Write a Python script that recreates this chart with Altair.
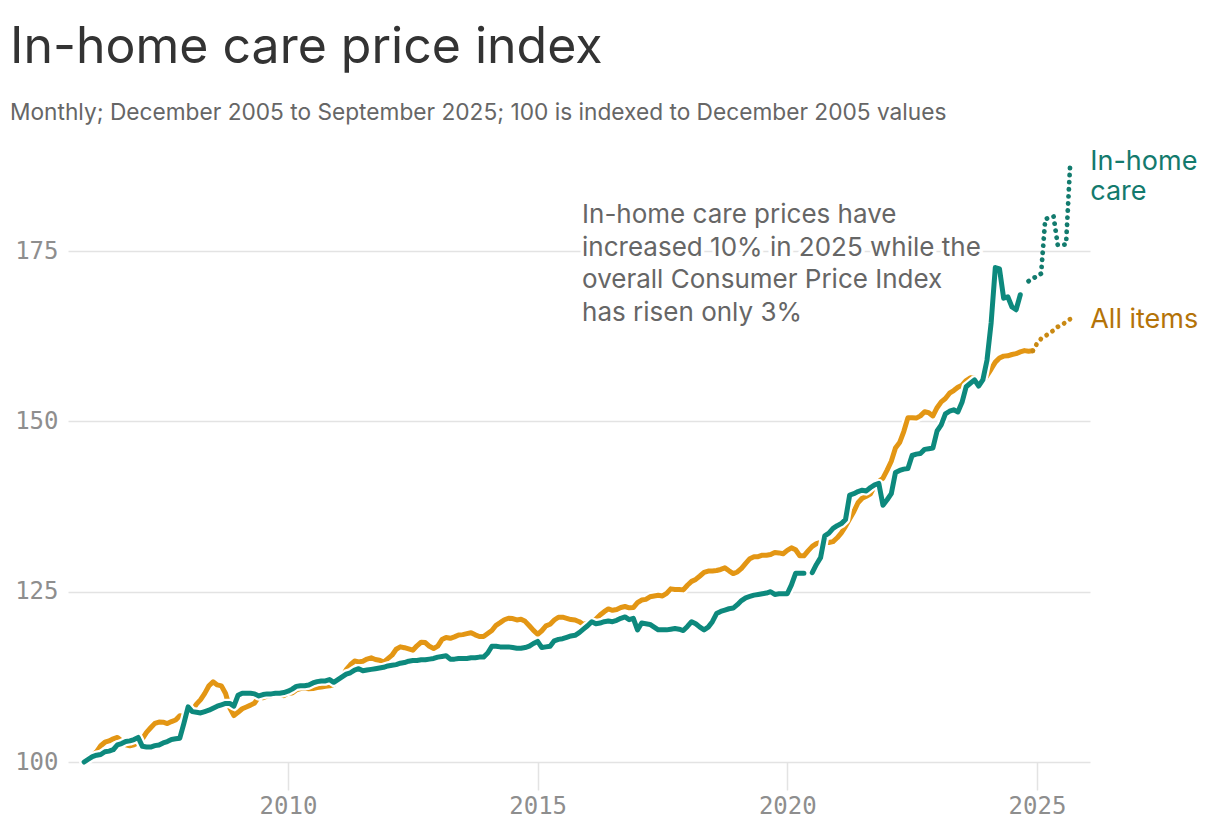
import altair as alt
import pandas as pd

# ---------------- data ----------------
months = [d.strftime("%Y-%m") for d in pd.date_range("2005-12-01", "2025-09-01", freq="MS")]

# In-home care index, Dec 2005 .. Sep 2024 (None = missing month)
in_home_care = [
    100.0, 100.4, 100.8, 101.0, 101.1, 101.5, 101.6, 101.8, 102.5, 102.7, 103.0, 103.1, 103.3,
    103.6, 102.3, 102.2, 102.2, 102.4, 102.5, 102.8, 103.0, 103.3, 103.4, 103.5, 105.7,
    108.1, 107.4, 107.3, 107.2, 107.4, 107.6, 107.9, 108.2, 108.4, 108.6, 108.6, 108.2,
    109.8, 110.1, 110.1, 110.1, 110.0, 109.7, 109.9, 110.0, 110.0, 110.1, 110.1, 110.2,
    110.4, 110.7, 111.1, 111.2, 111.2, 111.3, 111.6, 111.8, 111.9, 111.9, 112.1, 111.7,
    112.1, 112.5, 112.9, 113.1, 113.5, 113.7, 113.4, 113.5, 113.6, 113.7, 113.8, 113.9,
    114.1, 114.2, 114.3, 114.5, 114.6, 114.8, 114.9, 114.9, 115.0, 115.0, 115.1, 115.2,
    115.4, 115.5, 115.6, 115.1, 115.1, 115.2, 115.2, 115.2, 115.3, 115.3, 115.4, 115.4,
    116.0, 117.0, 117.0, 116.9, 116.9, 116.9, 116.8, 116.7, 116.7, 116.8, 117.0, 117.4,
    117.7, 116.8, 116.9, 117.0, 117.8, 118.0, 118.1, 118.3, 118.5, 118.6, 119.0, 119.5,
    120.0, 120.6, 120.3, 120.4, 120.6, 120.7, 120.6, 120.8, 121.1, 121.3, 120.9, 121.1,
    119.4, 120.4, 120.3, 120.2, 119.8, 119.4, 119.4, 119.4, 119.5, 119.6, 119.5, 119.3,
    119.9, 120.6, 120.3, 119.8, 119.4, 119.8, 120.6, 121.8, 122.1, 122.3, 122.5, 122.6,
    123.1, 123.7, 124.1, 124.3, 124.5, 124.6, 124.7, 124.8, 125.0, 124.6, 124.7, 124.7,
    124.7, 126.0, 127.7, 127.7, 127.7, None, 127.8, 129.0, 130.0, 133.2, 133.6, 134.3,
    134.7, 135.0, 135.6, 139.2, 139.4, 139.7, 139.9, 139.8, 140.3, 140.7, 140.9, 137.7,
    138.5, 139.4, 142.5, 142.8, 143.0, 143.1, 145.0, 145.2, 145.3, 145.9, 146.0, 146.1,
    148.6, 149.5, 151.1, 151.5, 151.7, 151.4, 152.8, 155.1, 155.6, 156.1, 155.2, 156.1,
    159.0, 164.5, 172.6, 172.4, 168.1, 168.3, 166.8, 166.4, 168.6,
]
# In-home care, Nov 2024 .. Sep 2025 (dotted)
in_home_care_2025 = [170.6, 171.0, 171.3, 171.7, 179.7, 179.9, 180.1, 175.9, 175.9, 176.0, 187.9]
IHC_2025_START = "2024-11"

# All items, Dec 2005 .. Dec 2024
all_items = [
    100.00,
    100.76, 100.97, 101.52, 102.39, 102.90, 103.10, 103.40, 103.61, 103.10, 102.54, 102.39, 102.54,
    102.85, 103.40, 104.35, 105.02, 105.67, 105.87, 105.84, 105.65, 105.94, 106.17, 106.80, 106.73,
    107.26, 107.57, 108.50, 109.16, 110.08, 111.19, 111.77, 111.32, 111.17, 110.05, 107.94, 106.82,
    107.29, 107.82, 108.08, 108.35, 108.67, 109.60, 109.43, 109.67, 109.74, 109.85, 109.92, 109.73,
    110.11, 110.13, 110.58, 110.78, 110.86, 110.75, 110.78, 110.93, 111.00, 111.13, 111.18, 111.37,
    111.90, 112.45, 113.55, 114.28, 114.82, 114.70, 114.80, 115.11, 115.29, 115.05, 114.95, 114.67,
    115.17, 115.68, 116.56, 116.91, 116.78, 116.60, 116.41, 117.06, 117.58, 117.54, 116.98, 116.67,
    117.01, 117.97, 118.28, 118.16, 118.37, 118.65, 118.70, 118.84, 118.98, 118.67, 118.43, 118.42,
    118.86, 119.30, 120.07, 120.46, 120.88, 121.11, 121.06, 120.86, 120.95, 120.65, 120.00, 119.32,
    118.75, 119.27, 119.98, 120.22, 120.84, 121.26, 121.27, 121.10, 120.91, 120.85, 120.60, 120.19,
    120.38, 120.48, 121.00, 121.58, 122.07, 122.47, 122.27, 122.38, 122.68, 122.83, 122.64, 122.68,
    123.39, 123.78, 123.88, 124.25, 124.36, 124.47, 124.38, 124.76, 125.42, 125.34, 125.34, 125.27,
    125.95, 126.52, 126.81, 127.31, 127.84, 128.04, 128.05, 128.12, 128.27, 128.50, 128.07, 127.66,
    127.90, 128.44, 129.17, 129.85, 130.13, 130.15, 130.37, 130.36, 130.47, 130.77, 130.70, 130.58,
    131.08, 131.44, 131.16, 130.28, 130.28, 131.00, 131.66, 132.07, 132.26, 132.31, 132.23, 132.36,
    132.92, 133.65, 134.59, 135.70, 136.79, 138.06, 138.72, 139.01, 139.38, 140.54, 141.23, 141.67,
    142.86, 144.16, 146.09, 146.90, 148.52, 150.56, 150.55, 150.49, 150.82, 151.43, 151.28, 150.81,
    152.02, 152.87, 153.37, 154.15, 154.54, 155.03, 155.33, 156.01, 156.40, 156.34, 156.02, 155.87,
    156.72, 157.69, 158.71, 159.32, 159.59, 159.64, 159.83, 159.96, 160.21, 160.40, 160.31, 160.37,
]
# All items, Dec 2024 .. Sep 2025 (dotted)
all_items_2025 = [160.37, 161.42, 162.14, 162.50, 163.01, 163.35, 163.90, 164.15, 164.62, 165.04]
AI_2025_START = "2024-12"

x_ticks = [2010, 2015, 2020, 2025]
y_ticks = [100, 125, 150, 175]

title = "In-home care price index"
subtitle = "Monthly; December 2005 to September 2025; 100 is indexed to December 2005 values"
note = "In-home care prices have\nincreased 10% in 2025 while the\noverall Consumer Price Index\nhas risen only 3%"
label_ihc = "In-home\ncare"
label_all = "All items"

# ---------------- build table ----------------
def yearfrac(ym):
    y, m = map(int, ym.split("-"))
    return y + (m - 1) / 12.0

rows = []
def add(values, start, series, style):
    i0 = months.index(start)
    seg = 0
    for i, v in enumerate(values):
        if v is None:
            seg += 1
            continue
        ym = months[i0 + i]
        rows.append(dict(month=ym, t=yearfrac(ym), value=v, series=series, style=style,
                         seg=f"{series}-{style}-{seg}"))

add(in_home_care, "2005-12", "ihc", "solid")
add(in_home_care_2025, IHC_2025_START, "ihc", "dot")
add(all_items, "2005-12", "all", "solid")
add(all_items_2025, AI_2025_START, "all", "dot")
df = pd.DataFrame(rows)

TEAL = "#0d897d"
TEAL_DOT = "#127b6e"
TEAL_TXT = "#137a6d"
ORANGE = "#e39614"
ORANGE_DOT = "#c98913"
ORANGE_TXT = "#b47308"
MONO = "DejaVu Sans Mono"
SANS = "Inter"
AXIS_GRAY = "#8e8e8e"
GRID = "#e3e3e3"

xscale = alt.Scale(domain=[2005.594, 2026.063], nice=False, zero=False)
yscale = alt.Scale(domain=[100, 190], nice=False, zero=False)

x_enc = alt.X("t:Q", scale=xscale, title=None,
              axis=alt.Axis(values=x_ticks, format="d", grid=False, domain=False, ticks=True,
                            tickSize=28, tickColor=GRID, tickWidth=1.5, labelFont=MONO,
                            labelFontSize=24, labelColor=AXIS_GRAY, labelPadding=4,
                            labelFlush=False))
y_enc = alt.Y("value:Q", scale=yscale, title=None,
              axis=alt.Axis(values=y_ticks, grid=True, gridColor=GRID, gridWidth=1.5,
                            domain=False, ticks=False, labelFont=MONO, labelFontSize=24,
                            labelColor=AXIS_GRAY, labelPadding=10))

base = alt.Chart(df).encode(x=x_enc, y=y_enc, detail="seg:N")

def sel(series, style):
    return base.transform_filter((alt.datum.series == series) & (alt.datum.style == style))

layers = [
    sel("all", "solid").mark_line(color="white", strokeWidth=9.5, strokeJoin="round", strokeCap="round"),
    sel("all", "solid").mark_line(color=ORANGE, strokeWidth=5, strokeJoin="round", strokeCap="round"),
    sel("all", "dot").mark_line(color=ORANGE_DOT, strokeWidth=4.8, strokeCap="round", strokeDash=[0.1, 7]),
    sel("ihc", "solid").mark_line(color="white", strokeWidth=9.5, strokeJoin="round", strokeCap="round"),
    sel("ihc", "solid").mark_line(color=TEAL, strokeWidth=5, strokeJoin="round", strokeCap="round"),
    sel("ihc", "dot").mark_line(color=TEAL_DOT, strokeWidth=4.8, strokeCap="round", strokeDash=[0.1, 7]),
]

ann_df = pd.DataFrame({"t": [2015.89], "value": [182.2], "text": [note]})
ann_enc = dict(x=alt.X("t:Q"), y=alt.Y("value:Q"), text="text:N")
layers.append(alt.Chart(ann_df).mark_text(align="left", baseline="top", lineBreak="\n",
                                          lineHeight=32.5, font=SANS, fontSize=26, fill="white",
                                          stroke="white", strokeWidth=7, strokeJoin="round").encode(**ann_enc))
layers.append(alt.Chart(ann_df).mark_text(align="left", baseline="top", lineBreak="\n",
                                          lineHeight=32.5, font=SANS, fontSize=26,
                                          color="#666666").encode(**ann_enc))

lab_ihc = pd.DataFrame({"t": [yearfrac("2025-09")], "value": [in_home_care_2025[-1]], "text": [label_ihc]})
lab_all = pd.DataFrame({"t": [yearfrac("2025-09")], "value": [all_items_2025[-1]], "text": [label_all]})
layers.append(alt.Chart(lab_ihc).mark_text(align="left", baseline="top", lineBreak="\n", lineHeight=30,
                                           font=SANS, fontSize=27, color=TEAL_TXT, dx=20, dy=-14)
              .encode(x="t:Q", y="value:Q", text="text:N"))
layers.append(alt.Chart(lab_all).mark_text(align="left", baseline="middle", font=SANS, fontSize=27,
                                           color=ORANGE_TXT, dx=20, dy=1)
              .encode(x="t:Q", y="value:Q", text="text:N"))

chart = alt.layer(*layers).properties(
    width=1022, height=613,
    title=alt.TitleParams(text=title, subtitle=subtitle, anchor="start", frame="group", dx=-58,
                          font=SANS, fontSize=50, fontWeight=400, color="#333333",
                          subtitleFont=SANS, subtitleFontSize=22.7, subtitleColor="#666666",
                          subtitlePadding=29, offset=24),
    padding={"left": 60, "top": 141, "right": 118, "bottom": 60},
    autosize=alt.AutoSizeParams(type="none"),
).configure_view(stroke=None)

chart.save("out.html", embed_options={"renderer": "svg", "actions": False})
